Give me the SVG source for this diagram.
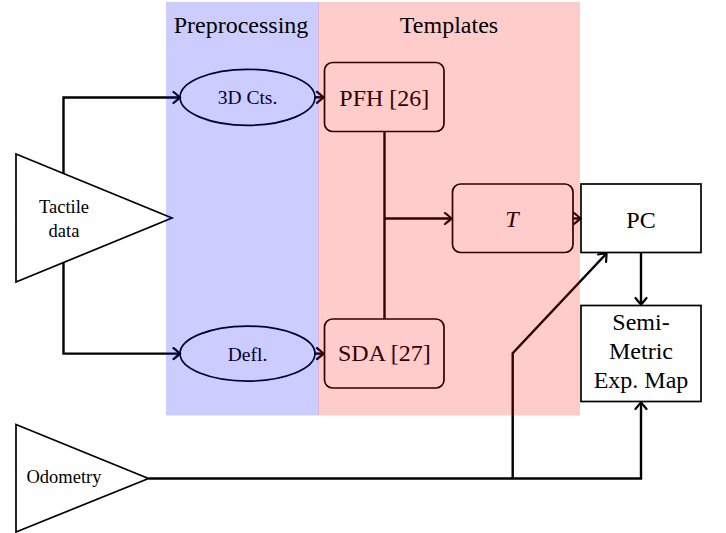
<svg xmlns="http://www.w3.org/2000/svg" width="726" height="533" viewBox="0 0 726 533">
<style>
.n{fill:#fff;stroke:#000;stroke-width:1.7}
.c{fill:none;stroke:#000;stroke-width:2.4}
text{font-family:"Liberation Serif","Times New Roman",serif;fill:#000;text-anchor:middle}
.s{font-size:18.5px}
.m{font-size:19.5px}
.l{font-size:24px}
</style>
<defs>
<marker id="a" markerUnits="userSpaceOnUse" markerWidth="14" markerHeight="14" viewBox="-9 -7 11 14" refX="0" refY="0" orient="auto">
<path d="M-6.5,-5.5 Q-1.5,-1.5 0,0 Q-1.5,1.5 -6.5,5.5" fill="none" stroke="#000" stroke-width="2.2" stroke-linecap="round"/>
</marker>
</defs>
<g id="tactile"><polygon class="n" points="16,154 172,218 16,282"/><text class="s" x="64" y="213">Tactile</text><text class="s" x="64" y="236.5">data</text></g>
<g id="odometry"><polygon class="n" points="16,424.5 148.5,478.5 16,532"/><text class="s" x="64" y="483">Odometry</text></g>
<g id="cts"><ellipse class="n" cx="247.5" cy="97.3" rx="67.5" ry="28"/><text class="m" x="247.5" y="104">3D Cts.</text></g>
<g id="defl"><ellipse class="n" cx="247.5" cy="353.6" rx="67.5" ry="27.5"/><text class="m" x="247.5" y="360.5">Defl.</text></g>
<g id="pfh"><rect class="n" x="324.5" y="62.5" width="119.5" height="69" rx="8"/><text class="l" x="384.3" y="106">PFH [26]</text></g>
<g id="sda"><rect class="n" x="324.5" y="319" width="119.5" height="69" rx="8"/><text class="l" x="384.3" y="361">SDA [27]</text></g>
<g id="tnode"><rect class="n" x="452.5" y="184" width="120.5" height="68.5" rx="8"/><text class="l" x="512" y="227" font-style="italic">T</text></g>
<g id="pc"><rect class="n" x="581" y="184" width="120" height="68.5"/><text class="l" x="641" y="227.5">PC</text></g>
<g id="sem"><rect class="n" x="581" y="305.5" width="120" height="96"/><text class="l" x="641" y="329.5">Semi-</text><text class="l" x="641" y="358.5">Metric</text><text class="l" x="641" y="387.5">Exp. Map</text></g>
<g id="connectors">
<path class="c" d="M63.5,173.5 V97.5 H180" marker-end="url(#a)"/>
<path class="c" d="M63.5,262.5 V353.6 H180" marker-end="url(#a)"/>
<path class="c" d="M315,97.3 H323.5" marker-end="url(#a)"/>
<path class="c" d="M315,353.6 H323.5" marker-end="url(#a)"/>
<path class="c" d="M384.5,131.5 V319"/>
<path class="c" d="M384.5,218.5 H451.5" marker-end="url(#a)"/>
<path class="c" d="M573,218.5 H580.5" marker-end="url(#a)"/>
<path class="c" d="M641,252.5 V304.5" marker-end="url(#a)"/>
<path class="c" d="M148.5,478.5 H641 V402.5" marker-end="url(#a)"/>
<path class="c" d="M512.7,478.5 V353.3 L606.5,253.5" marker-end="url(#a)"/>
</g>
<g id="regions">
<rect x="166" y="2" width="152.8" height="413.5" fill="#0000ff" fill-opacity="0.2"/>
<rect x="318.2" y="2" width="261.8" height="413.5" fill="#ff0000" fill-opacity="0.2"/>
<text class="l" x="241" y="33.3">Preprocessing</text>
<text class="l" x="449" y="33.3">Templates</text>
</g>
</svg>
